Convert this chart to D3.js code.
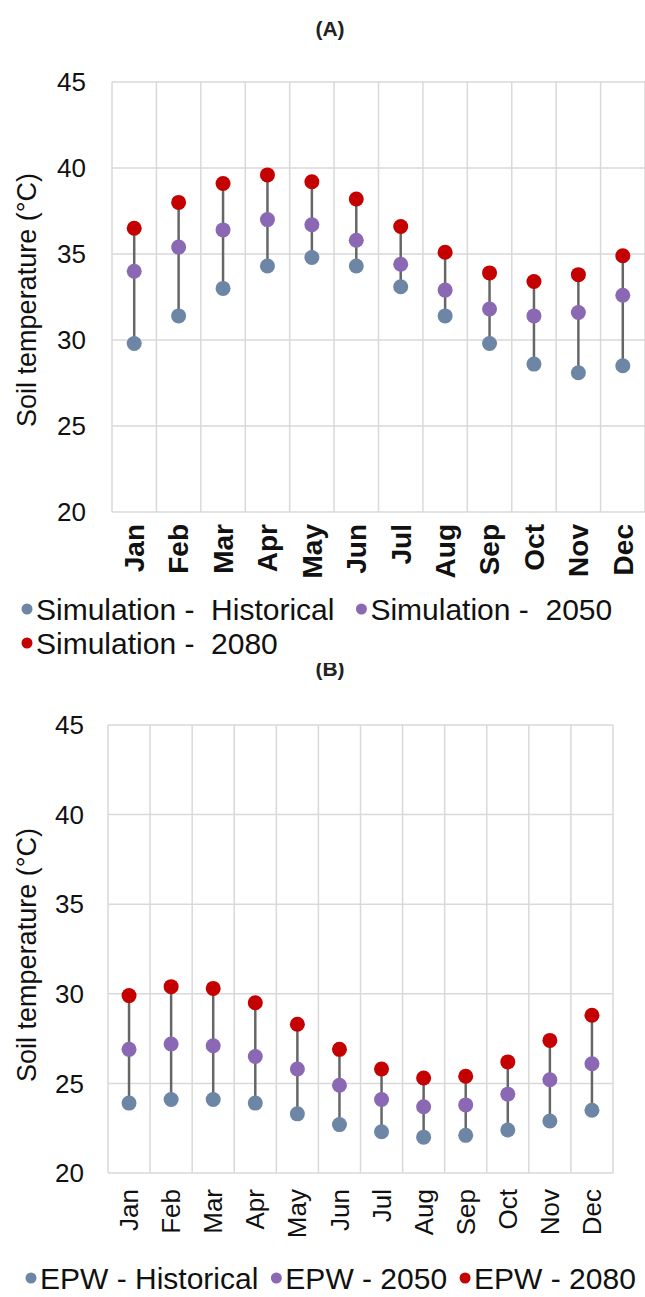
<!DOCTYPE html>
<html>
<head>
<meta charset="utf-8">
<script src="https://cdn.jsdelivr.net/npm/d3@7"></script>
<style>
  html, body { margin: 0; padding: 0; background: #fff; }
  svg { display: block; font-family: "Liberation Sans", Arial, sans-serif; }
</style>
</head>
<body>
<div id="chart"></div>
<script>
'use strict'

// ---------- data ----------
const months = ['Jan','Feb','Mar','Apr','May','Jun','Jul','Aug','Sep','Oct','Nov','Dec']
const yTicks = [20, 25, 30, 35, 40, 45]

// (A) simulation
const simHist = [29.8, 31.4, 33.0, 34.3, 34.8, 34.3, 33.1, 31.4, 29.8, 28.6, 28.1, 28.5]
const sim2050 = [34.0, 35.4, 36.4, 37.0, 36.7, 35.8, 34.4, 32.9, 31.8, 31.4, 31.6, 32.6]
const sim2080 = [36.5, 38.0, 39.1, 39.6, 39.2, 38.2, 36.6, 35.1, 33.9, 33.4, 33.8, 34.9]

// (B) EPW
const epwHist = [23.9, 24.1, 24.1, 23.9, 23.3, 22.7, 22.3, 22.0, 22.1, 22.4, 22.9, 23.5]
const epw2050 = [26.9, 27.2, 27.1, 26.5, 25.8, 24.9, 24.1, 23.7, 23.8, 24.4, 25.2, 26.1]
const epw2080 = [29.9, 30.4, 30.3, 29.5, 28.3, 26.9, 25.8, 25.3, 25.4, 26.2, 27.4, 28.8]

const colors = { hist: '#6d86a5', y2050: '#8b68b4', y2080: '#c40000' }

const W = 645, H = 1297
const svg = d3.select('#chart').append('svg')
    .attr('width', W)
    .attr('height', H)

function panel(cfg) {
    const x = d3.scaleBand()
        .domain(months)
        .range([cfg.left, cfg.right])
        .padding(0)

    const y = d3.scaleLinear()
        .domain([20, 45])
        .range([cfg.bottom, cfg.top])

    const g = svg.append('g')

    // grid
    g.selectAll('.hgrid')
        .data(yTicks)
        .join('line')
        .attr('x1', cfg.left).attr('x2', cfg.right)
        .attr('y1', d => y(d)).attr('y2', d => y(d))
        .attr('stroke', '#d9d9d9').attr('stroke-width', 1.5)

    const edges = months.map(m => x(m)).concat([cfg.right])
    g.selectAll('.vgrid')
        .data(edges)
        .join('line')
        .attr('x1', d => d).attr('x2', d => d)
        .attr('y1', cfg.top).attr('y2', cfg.bottom)
        .attr('stroke', '#d9d9d9').attr('stroke-width', 1.5)

    // y tick labels
    g.selectAll('.ylab')
        .data(yTicks)
        .join('text')
        .attr('x', cfg.left - cfg.yLabGap)
        .attr('y', d => y(d))
        .attr('dy', '0.35em')
        .attr('text-anchor', 'end')
        .attr('font-size', 26)
        .attr('fill', '#111')
        .text(d => d)

    // y title
    g.append('text')
        .attr('transform', `translate(${cfg.titleX},${cfg.titleY}) rotate(-90)`)
        .attr('text-anchor', 'middle')
        .attr('dy', '0.35em')
        .attr('font-size', 27)
        .attr('fill', '#111')
        .text('Soil temperature (°C)')

    // x labels
    g.selectAll('.xlab')
        .data(months)
        .join('text')
        .attr('transform', d => `translate(${x(d) + x.bandwidth() / 2},${cfg.bottom + cfg.xLabGap}) rotate(-90)`)
        .attr('text-anchor', 'end')
        .attr('dy', '0.35em')
        .attr('font-size', cfg.xFont)
        .attr('font-weight', cfg.boldX ? 'bold' : 'normal')
        .attr('fill', '#111')
        .text(d => d)

    // stems
    const rows = months.map((m, i) => ({
        m: m,
        lo: Math.min(cfg.hist[i], cfg.mid[i], cfg.high[i]),
        hi: Math.max(cfg.hist[i], cfg.mid[i], cfg.high[i])
    }))
    g.selectAll('.stem')
        .data(rows)
        .join('line')
        .attr('x1', d => x(d.m) + x.bandwidth() / 2)
        .attr('x2', d => x(d.m) + x.bandwidth() / 2)
        .attr('y1', d => y(d.lo))
        .attr('y2', d => y(d.hi))
        .attr('stroke', '#666')
        .attr('stroke-width', 2.5)

    // dots
    const series = [
        { vals: cfg.hist, color: colors.hist },
        { vals: cfg.mid, color: colors.y2050 },
        { vals: cfg.high, color: colors.y2080 }
    ]
    series.forEach(s => {
        g.selectAll(null)
            .data(s.vals)
            .join('circle')
            .attr('cx', (d, i) => x(months[i]) + x.bandwidth() / 2)
            .attr('cy', d => y(d))
            .attr('r', 7.5)
            .attr('fill', s.color)
    })
}

function legend(items, startX, yPos, fontSize, gap) {
    let cx = startX
    items.forEach(it => {
        if (it.newline) { cx = startX; yPos = it.y; }
        svg.append('circle')
            .attr('cx', cx + 5).attr('cy', yPos)
            .attr('r', 5.5)
            .attr('fill', it.color)
        const t = svg.append('text')
            .attr('x', cx + 14)
            .attr('y', yPos)
            .attr('dy', '0.35em')
            .attr('font-size', fontSize)
            .attr('fill', '#111')
            .attr('xml:space', 'preserve')
            .style('white-space', 'pre')
            .text(it.label)
        cx += 14 + t.node().getComputedTextLength() + gap
    })
}

// ---------- (A) ----------
svg.append('text')
    .attr('x', 330).attr('y', 29)
    .attr('dy', '0.35em')
    .attr('text-anchor', 'middle')
    .attr('font-size', 21)
    .attr('font-weight', 'bold')
    .attr('fill', '#222')
    .text('(A)')

panel({
    left: 112, right: 645, top: 82, bottom: 512, titleX: 27, titleY: 300,
    yLabGap: 26, xLabGap: 12, xFont: 28,
    hist: simHist, mid: sim2050, high: sim2080, boldX: true
})

legend([
    { label: 'Simulation -  Historical', color: colors.hist },
    { label: 'Simulation -  2050', color: colors.y2050 },
    { label: 'Simulation -  2080', color: colors.y2080, newline: true, y: 643 }
], 22, 609, 30, 22)

// ---------- (B) ----------
svg.append('clipPath').attr('id', 'bclip')
    .append('rect').attr('x', 0).attr('y', 663).attr('width', W).attr('height', 40)
svg.append('text')
    .attr('clip-path', 'url(#bclip)')
    .attr('x', 330).attr('y', 669)
    .attr('dy', '0.35em')
    .attr('text-anchor', 'middle')
    .attr('font-size', 21)
    .attr('font-weight', 'bold')
    .attr('fill', '#222')
    .text('(B)')

panel({
    left: 108, right: 613, top: 725, bottom: 1173, titleX: 27, titleY: 955,
    yLabGap: 24, xLabGap: 16, xFont: 26,
    hist: epwHist, mid: epw2050, high: epw2080, boldX: false
})

legend([
    { label: 'EPW - Historical', color: colors.hist },
    { label: 'EPW - 2050', color: colors.y2050 },
    { label: 'EPW - 2080', color: colors.y2080 }
], 26, 1278, 30, 13)
</script>
</body>
</html>
